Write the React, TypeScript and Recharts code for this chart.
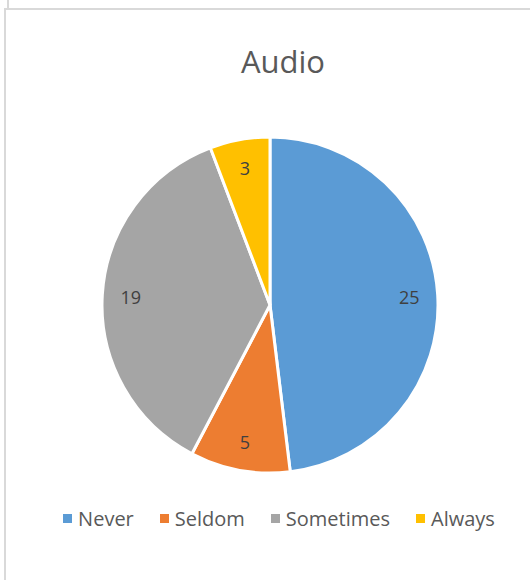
import React from "react";
import { PieChart, Pie, Cell } from "recharts";

const categories = ["Never", "Seldom", "Sometimes", "Always"];
const counts = [25, 5, 19, 3];
const colors = ["#5B9BD5", "#ED7D31", "#A5A5A5", "#FFC000"];

const data = categories.map((name, i) => ({ name, value: counts[i] }));

const FONT = "'Open Sans', 'Liberation Sans', sans-serif";
const RAD = Math.PI / 180;

function renderLabel(props: any) {
  const { cx, cy, midAngle, outerRadius, value } = props;
  const r = outerRadius * 0.83;
  const x = cx + r * Math.cos(-midAngle * RAD);
  const y = cy + r * Math.sin(-midAngle * RAD);
  return (
    <text
      x={x}
      y={y}
      fill="#404040"
      fontSize={18}
      fontFamily={FONT}
      textAnchor="middle"
      dominantBaseline="central"
    >
      {value}
    </text>
  );
}

// legend drawn from the same arrays, in data order
function ChartLegend() {
  return (
    <div
      style={{
        position: "absolute",
        left: 0,
        top: 505,
        width: 558,
        display: "flex",
        justifyContent: "center",
        gap: 26,
        fontFamily: FONT,
        fontSize: 20,
        color: "#595959",
      }}
    >
      {categories.map((name, i) => (
        <div key={name} style={{ display: "flex", alignItems: "center" }}>
          <span
            style={{
              display: "inline-block",
              width: 9,
              height: 9,
              background: colors[i],
              marginRight: 6,
            }}
          />
          <span>{name}</span>
        </div>
      ))}
    </div>
  );
}

export default function App() {
  return (
    <div
      style={{
        position: "absolute",
        left: 0,
        top: 0,
        width: 530,
        height: 580,
        background: "#fff",
        overflow: "hidden",
      }}
    >
      <div
        style={{
          position: "absolute",
          left: 4,
          top: 8,
          width: 540,
          height: 580,
          borderLeft: "2px solid #d9d9d9",
          borderTop: "2px solid #d9d9d9",
        }}
      />
      <div
        style={{
          position: "absolute",
          left: 7,
          top: 0,
          width: 0,
          height: 8,
          borderLeft: "2px solid #d9d9d9",
        }}
      />
      <div
        style={{
          position: "absolute",
          left: 0,
          top: 40,
          width: 566,
          textAlign: "center",
          fontFamily: FONT,
          fontSize: 31,
          color: "#595959",
        }}
      >
        Audio
      </div>
      <div style={{ position: "absolute", left: 0, top: 0 }}>
        <PieChart
          width={530}
          height={580}
          margin={{ top: 0, right: 0, bottom: 0, left: 0 }}
        >
          <Pie
            data={data}
            dataKey="value"
            nameKey="name"
            cx={270}
            cy={305}
            outerRadius={168}
            startAngle={90}
            endAngle={-270}
            stroke="#ffffff"
            strokeWidth={3}
            label={renderLabel}
            labelLine={false}
            isAnimationActive={false}
          >
            {data.map((d, i) => (
              <Cell key={d.name} fill={colors[i]} />
            ))}
          </Pie>
        </PieChart>
      </div>
      <ChartLegend />
    </div>
  );
}
